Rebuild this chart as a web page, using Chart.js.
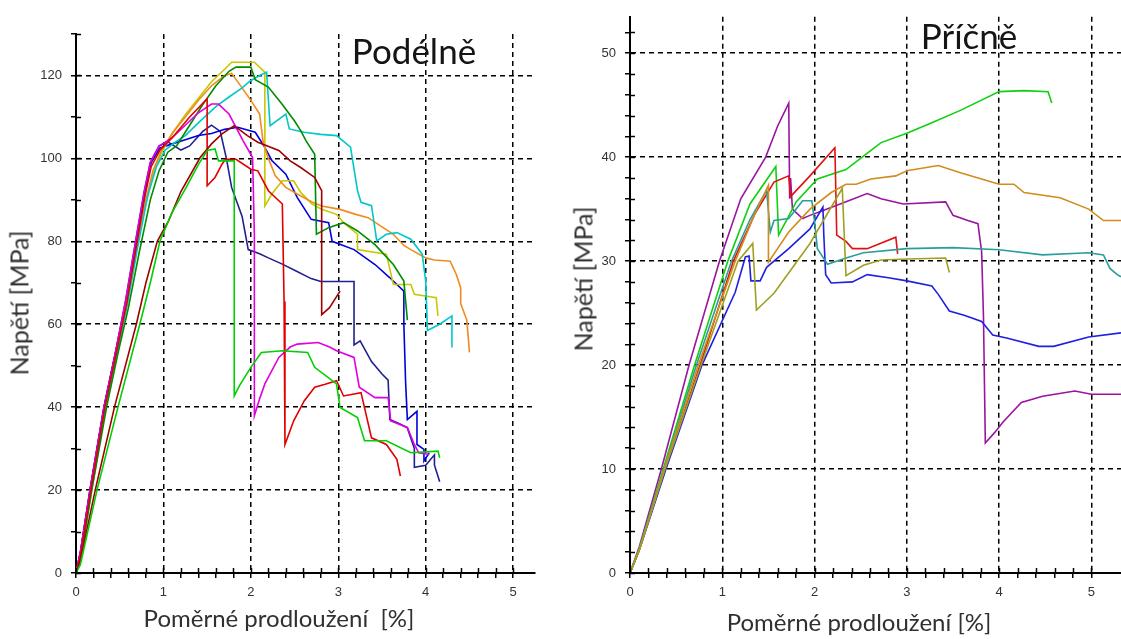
<!DOCTYPE html>
<html lang="cs">
<head>
<meta charset="utf-8">
<title>Napětí – poměrné prodloužení</title>
<script src="https://cdn.jsdelivr.net/npm/chart.js@4.4.1/dist/chart.umd.min.js"></script>
<style>
  html, body { margin: 0; padding: 0; background: #fff; }
  #wrap { position: relative; width: 1121px; height: 639px; overflow: hidden; background: #fff; }
  canvas { position: absolute; top: 0; }
  #cLeft { left: 0; }
  #cRight { left: 560px; }
  .lbl { position: absolute; white-space: pre; font-family: Lato, "Open Sans", sans-serif; color: #2a2a2a; z-index: 2; transform: translate(-50%, -50%); line-height: 1; }
  .ttl { font-size: 35px; color: #151515; }
  .ax { font-size: 24px; color: #303030; }
  .axy { font-size: 25px; color: #303030; }
  .rot { transform: translate(-50%, -50%) rotate(-90deg); }
</style>
</head>
<body>
<div id="wrap">
  <canvas id="cLeft" width="560" height="639"></canvas>
  <canvas id="cRight" width="561" height="639"></canvas>
  <div class="lbl ttl" style="left:414px; top:50px;">Podélně</div>
  <div class="lbl ttl" style="left:969px; top:35px;">Příčně</div>
  <div class="lbl ax" style="left:279px; top:618px;">Poměrné prodloužení  [%]</div>
  <div class="lbl ax" style="left:859px; top:622px;">Poměrné prodloužení [%]</div>
  <div class="lbl axy rot" style="left:19px; top:303px;">Napětí [MPa]</div>
  <div class="lbl axy rot" style="left:583px; top:279px;">Napětí [MPa]</div>
</div>
<script>
// Axis ranges and tick steps
const podXMax = 5.25, podYMax = 130, podYStep = 10, podYMajor = 20;
const priXMax = 5.32, priYMax = 53.5, priYStep = 2, priYMajor = 10;
const xStep = 0.2, xMajor = 1;

// ---- Podélně: [poměrné prodloužení %, napětí MPa] ----
const podNavy = [[0,0],[0.05,5],[0.16,20],[0.32,40],[0.45,53],[0.57,66],[0.69,81],[0.78,92],[0.85,99],[0.95,103],[1.05,104],[1.2,102],[1.3,103],[1.45,106.5],[1.55,108],[1.65,106.5],[1.72,100],[1.78,93],[1.9,86],[1.97,78],[2.1,77],[2.2,76],[2.36,74.5],[2.5,73],[2.69,71],[2.8,70.3],[3.18,70.3],[3.18,55],[3.25,56],[3.38,51],[3.5,48],[3.57,46.5],[3.59,37],[3.7,36],[3.79,35],[3.87,30],[3.87,25.5],[4.0,26],[4.1,28.5],[4.1,26],[4.16,22]];
const podBlue = [[0,0],[0.05,5],[0.16,20],[0.32,40],[0.45,53],[0.57,65],[0.69,80],[0.78,91],[0.86,99],[0.96,102.5],[1.1,103.5],[1.25,104.5],[1.4,105.5],[1.55,106],[1.7,107],[1.85,107.5],[2.05,106.3],[2.15,103],[2.24,99.5],[2.4,96.2],[2.53,90.6],[2.69,85.3],[2.89,84.5],[2.93,80],[3.18,78],[3.42,74.4],[3.59,71.2],[3.75,68],[3.75,60],[3.77,46],[3.79,37],[3.9,39],[3.9,31],[3.98,29.8],[3.98,27],[4.04,29]];
const podOrange = [[0,0],[0.05,4],[0.17,20],[0.33,40],[0.46,53],[0.58,65],[0.7,79],[0.8,90],[0.88,97],[0.97,101.5],[1.1,106],[1.25,110],[1.4,114],[1.55,117.5],[1.7,120],[1.78,120.5],[1.9,117],[2.0,114],[2.1,110.7],[2.14,104],[2.2,100],[2.28,95.8],[2.4,93],[2.53,91.4],[2.7,89.5],[2.81,88.5],[3.02,87.7],[3.2,86.5],[3.34,85.7],[3.5,83.5],[3.63,81.7],[3.75,79],[3.83,78],[4.0,76],[4.1,75.5],[4.28,75.2],[4.35,72],[4.4,68.8],[4.4,65],[4.47,61],[4.49,56],[4.5,53.2]];
const podYellow = [[0,0],[0.05,4],[0.17,20],[0.33,40],[0.46,53],[0.58,65],[0.7,79],[0.8,89],[0.88,96],[0.97,101],[1.1,106],[1.25,110.5],[1.4,114.5],[1.55,118.5],[1.7,121.5],[1.78,123.2],[2.04,123.2],[2.16,120.8],[2.16,88.5],[2.24,91.4],[2.36,94.6],[2.49,94.6],[2.57,91.8],[2.7,89],[2.81,87.7],[2.98,86.5],[3.06,84.5],[3.22,81.7],[3.22,78],[3.55,76.9],[3.63,69.6],[3.83,69.6],[3.87,67.2],[4.12,66.4],[4.14,62]];
const podGreen = [[0,0],[0.05,3],[0.18,20],[0.35,40],[0.48,53],[0.6,64],[0.72,77],[0.85,90],[0.95,97],[1.05,101.5],[1.15,103],[1.3,108],[1.45,113],[1.6,117.5],[1.75,121],[1.83,122],[2.0,122],[2.05,119],[2.2,117.2],[2.36,113],[2.5,109],[2.57,106.7],[2.63,104.3],[2.73,101],[2.75,81.7],[2.89,83.3],[3.06,84.5],[3.22,82.5],[3.42,79.2],[3.63,74.4],[3.75,70.4],[3.79,61]];
const podCyan = [[0,0],[0.05,3],[0.18,20],[0.34,40],[0.47,53],[0.59,65],[0.71,79],[0.82,91],[0.92,98],[1.02,102],[1.14,104],[1.25,105.5],[1.42,109],[1.6,112.5],[1.75,114.8],[1.9,117],[2.0,118.8],[2.1,120],[2.18,120.8],[2.22,107.9],[2.4,110.7],[2.44,107.1],[2.61,106.3],[2.8,105.8],[2.98,105.5],[3.14,102.7],[3.22,92.2],[3.26,89.4],[3.38,88.6],[3.44,80.1],[3.55,81.7],[3.67,82.1],[3.83,80.5],[3.96,76.9],[4.0,70.4],[4.02,58.5],[4.16,60],[4.3,62],[4.3,54.4]];
const podMagenta = [[0,0],[0.05,5],[0.16,20],[0.32,40],[0.45,53],[0.57,66],[0.69,81],[0.78,92],[0.85,99],[0.95,103],[1.1,105],[1.25,108],[1.4,111],[1.55,113.1],[1.63,113.1],[1.75,110.7],[1.91,104.3],[2.02,100.2],[2.04,81.7],[2.04,37.9],[2.1,42],[2.16,45.6],[2.32,52],[2.45,54.5],[2.53,55.2],[2.77,55.6],[2.9,54.5],[2.98,53.6],[3.18,52],[3.24,44.8],[3.42,42.3],[3.57,42.3],[3.6,36.7],[3.79,35.1],[3.87,31],[3.92,29],[4.04,28.6]];
const podRed = [[0,0],[0.05,4],[0.17,20],[0.33,40],[0.46,53],[0.58,65],[0.7,80],[0.79,91],[0.86,98],[0.96,102],[1.1,105],[1.3,110],[1.5,114.4],[1.5,93.4],[1.59,95.4],[1.67,98.6],[1.71,99.8],[1.83,99.8],[2.0,97.4],[2.08,97],[2.2,92.2],[2.36,89],[2.38,65.5],[2.39,31],[2.49,36.7],[2.61,41.5],[2.73,44.8],[2.85,45.5],[2.98,46.4],[3.06,42.7],[3.26,43.5],[3.38,32.6],[3.55,31],[3.67,27.4],[3.71,23.4]];
const podBrown = [[0,0],[0.05,3],[0.22,20],[0.44,40],[0.69,60],[0.8,70],[0.93,80],[1.06,85],[1.2,92],[1.42,100.2],[1.55,103.5],[1.67,105.9],[1.81,107.9],[1.96,105.5],[2.08,103.9],[2.32,101.9],[2.45,99.4],[2.57,97.8],[2.73,95.4],[2.81,92.2],[2.81,62.3],[2.9,64],[3.02,68]];
const podLime = [[0,0],[0.05,2],[0.24,20],[0.48,40],[0.73,60],[0.85,70],[0.96,80],[1.1,87],[1.26,93],[1.4,98.5],[1.5,101.9],[1.59,102.3],[1.63,99.4],[1.81,99.4],[1.81,42.7],[1.87,45.2],[2.0,49.6],[2.12,53.2],[2.36,53.6],[2.65,53.2],[2.73,49.6],[2.98,45.6],[3.02,39.9],[3.22,37.5],[3.3,31.9],[3.55,31.9],[3.83,29],[4.14,29.4],[4.16,27.8]];

// ---- Příčně: [poměrné prodloužení %, napětí MPa] ----
const priPurple = [[0,0],[0.1,2.5],[0.34,10],[0.64,20],[0.97,30],[1.2,36],[1.47,40],[1.6,43],[1.72,45.2],[1.73,36],[1.74,38],[1.76,35],[1.87,34.1],[1.95,34.4],[2.1,34.9],[2.34,35.7],[2.57,36.5],[2.72,36],[2.96,35.5],[3.42,35.7],[3.5,34.4],[3.66,33.9],[3.77,33.6],[3.81,30.9],[3.83,24.6],[3.85,12.5],[3.95,13.5],[4.04,14.5],[4.24,16.4],[4.47,17],[4.82,17.5],[5.0,17.2],[5.32,17.2]];
const priGreen = [[0,0],[0.1,2.3],[0.36,10],[0.7,20],[1.06,30],[1.3,35.5],[1.58,39.1],[1.61,32.5],[1.7,34],[1.8,35.7],[2.03,37.9],[2.34,38.8],[2.53,40.1],[2.72,41.4],[3.0,42.3],[3.27,43.3],[3.58,44.5],[4.0,46.3],[4.27,46.4],[4.53,46.3],[4.57,45.2]];
const priRed = [[0,0],[0.1,2.2],[0.38,10],[0.76,20],[1.12,30],[1.35,34.5],[1.56,37.6],[1.72,38.2],[1.74,36.2],[1.95,38.2],[2.22,40.9],[2.24,32.5],[2.34,31.9],[2.41,31.2],[2.57,31.2],[2.88,32.3],[2.9,30.7]];
const priTeal = [[0,0],[0.1,2.3],[0.37,10],[0.72,20],[1.1,30],[1.3,34],[1.48,36.8],[1.52,32.8],[1.56,33.9],[1.72,34.1],[1.87,35.8],[1.97,35.8],[2.0,33.8],[2.03,31.2],[2.14,29.7],[2.34,30.3],[2.53,30.8],[3.0,31.2],[3.5,31.3],[4.0,31.1],[4.47,30.6],[4.97,30.8],[5.13,30.6],[5.2,29.3],[5.28,28.7],[5.32,28.5]];
const priOrange = [[0,0],[0.1,2.2],[0.37,10],[0.74,20],[1.14,30],[1.35,34.5],[1.5,37.3],[1.5,29.9],[1.72,32.8],[1.95,35],[2.18,36.6],[2.34,37.4],[2.45,37.4],[2.61,37.9],[2.88,38.2],[3.0,38.7],[3.34,39.2],[3.58,38.5],[4.0,37.4],[4.16,37.4],[4.27,36.6],[4.66,36.1],[4.97,35],[5.13,33.9],[5.32,33.9]];
const priBlue = [[0,0],[0.1,2.2],[0.39,10],[0.78,20],[1.14,27],[1.25,30.4],[1.29,30.5],[1.31,28.1],[1.41,28.1],[1.48,29.4],[1.72,31.2],[1.95,33.1],[2.09,35.2],[2.1,32.5],[2.12,28.7],[2.18,27.9],[2.41,28],[2.57,28.7],[2.8,28.4],[3.0,28.1],[3.27,27.6],[3.34,26.8],[3.46,25.2],[3.62,24.8],[3.81,24.2],[3.93,22.9],[4.08,22.6],[4.43,21.8],[4.59,21.8],[4.97,22.7],[5.32,23.1]];
const priOlive = [[0,0],[0.1,2.2],[0.38,10],[0.77,20],[1.17,30],[1.33,31.7],[1.37,25.3],[1.56,26.9],[1.95,31.7],[2.3,37],[2.34,28.6],[2.53,29.6],[2.72,30.1],[3.0,30.2],[3.42,30.3],[3.46,28.9]];

function series(points, color) {
  return {
    data: points.map(p => ({ x: p[0], y: p[1] })),
    borderColor: color,
    borderWidth: 1.6,
    pointRadius: 0,
    tension: 0,
    fill: false
  };
}

const near = (v, step) => Math.abs(v / step - Math.round(v / step)) < 1e-6;

// short tick marks on the inner side of both axes, so ticks cross the axis line
const crossTicks = {
  id: 'crossTicks',
  afterDraw(chart) {
    const { ctx, chartArea: a, scales: { x, y } } = chart;
    ctx.save();
    ctx.strokeStyle = '#000';
    ctx.lineWidth = 1.5;
    x.ticks.forEach(t => {
      const px = Math.round(x.getPixelForValue(t.value)) + 0.5;
      ctx.beginPath(); ctx.moveTo(px, a.bottom); ctx.lineTo(px, a.bottom - 5); ctx.stroke();
    });
    y.ticks.forEach(t => {
      const py = Math.round(y.getPixelForValue(t.value)) + 0.5;
      ctx.beginPath(); ctx.moveTo(a.left, py); ctx.lineTo(a.left + 5, py); ctx.stroke();
    });
    ctx.restore();
  }
};

function scales(cfg) {
  const tickFont = { family: '"Liberation Sans", Arial, sans-serif', size: 13 };
  const gridColor = major => c => (near(c.tick.value, major) && Math.abs(c.tick.value) > 1e-9) ? '#000' : 'rgba(0,0,0,0)';
  return {
    x: {
      type: 'linear', min: 0, max: cfg.xMax,
      afterBuildTicks: s => { s.ticks = s.ticks.filter(t => near(t.value, xStep)); },
      afterFit: s => { s.height = 66; },
      ticks: {
        stepSize: xStep, autoSkip: false, maxRotation: 0, padding: 7,
        font: tickFont, color: '#333',
        callback: v => near(v, xMajor) ? String(Math.round(v)) : ''
      },
      grid: { color: gridColor(xMajor), lineWidth: 1.5, tickColor: '#000', tickLength: 5, tickWidth: 1.5 },
      border: { display: true, color: '#000', width: 2, dash: [5, 4] }
    },
    y: {
      type: 'linear', min: 0, max: cfg.yMax,
      afterBuildTicks: s => { s.ticks = s.ticks.filter(t => near(t.value, cfg.yStep)); },
      afterFit: s => { s.width = cfg.yWidth; },
      ticks: {
        stepSize: cfg.yStep, autoSkip: false, padding: 9,
        font: tickFont, color: '#333',
        callback: v => near(v, cfg.yMajor) ? String(Math.round(v)) : ''
      },
      grid: { color: gridColor(cfg.yMajor), lineWidth: 1.5, tickColor: '#000', tickLength: 5, tickWidth: 1.5 },
      border: { display: true, color: '#000', width: 2, dash: [5, 4] }
    }
  };
}

function makeChart(id, datasets, cfg) {
  return new Chart(document.getElementById(id), {
    type: 'line',
    data: { datasets },
    options: {
      responsive: false,
      animation: false,
      devicePixelRatio: 1,
      layout: { autoPadding: false, padding: cfg.padding },
      plugins: { legend: { display: false }, tooltip: { enabled: false }, title: { display: false } },
      scales: scales(cfg)
    },
    plugins: [crossTicks]
  });
}

makeChart('cLeft', [
  series(podLime, '#00d000'),
  series(podBrown, '#a00000'),
  series(podRed, '#e00000'),
  series(podMagenta, '#e000e0'),
  series(podGreen, '#008c00'),
  series(podCyan, '#00c8c8'),
  series(podOrange, '#f08c1e'),
  series(podYellow, '#c8c800'),
  series(podBlue, '#0000e0'),
  series(podNavy, '#202090')
], { xMax: podXMax, yMax: podYMax, yStep: podYStep, yMajor: podYMajor, yWidth: 76,
     padding: { top: 34, right: 25, bottom: 0, left: 0 } });

makeChart('cRight', [
  series(priOlive, '#a0a020'),
  series(priOrange, '#d08c1c'),
  series(priTeal, '#2a9d9d'),
  series(priBlue, '#2020e0'),
  series(priRed, '#e01010'),
  series(priGreen, '#10d010'),
  series(priPurple, '#9a14a0')
], { xMax: priXMax, yMax: priYMax, yStep: priYStep, yMajor: priYMajor, yWidth: 70,
     padding: { top: 12, right: 0, bottom: 0, left: 0 } });
</script>
</body>
</html>
